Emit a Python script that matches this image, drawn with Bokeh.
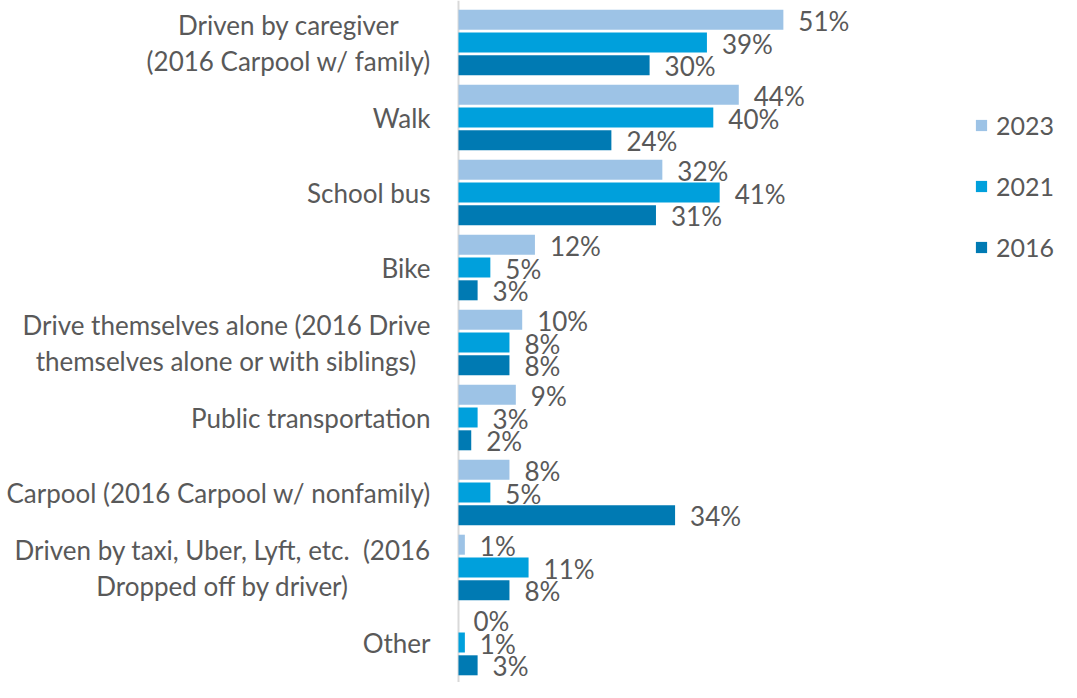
import subprocess
import glob
from bokeh.plotting import figure
from bokeh.models import ColumnDataSource, Range1d, Span, Legend, LegendItem
from bokeh.core.properties import value
from bokeh.embed import file_html
from bokeh.resources import INLINE

# ---------------- data ----------------
categories = [
    "Driven by caregiver\n(2016 Carpool w/ family)",
    "Walk",
    "School bus",
    "Bike",
    "Drive themselves alone (2016 Drive\nthemselves alone or with siblings)",
    "Public transportation",
    "Carpool (2016 Carpool w/ nonfamily)",
    "Driven by taxi, Uber, Lyft, etc.\u00a0 (2016\nDropped off by driver)",
    "Other",
]
years = ["2023", "2021", "2016"]
v2023 = [51, 44, 32, 12, 10, 9, 8, 1, 0]
v2021 = [39, 40, 41, 5, 8, 3, 5, 11, 1]
v2016 = [30, 24, 31, 3, 8, 2, 34, 8, 3]
series = [v2023, v2021, v2016]

# ---------------- style / layout ----------------
colors = ["#9dc3e6", "#00a0dc", "#007ab3"]
FONT = "Lato"
LABEL_SIZE = 26
VALUE_SIZE = 26
LEGEND_SIZE = 25
TEXT_COLOR = "#595959"
AXIS_COLOR = "#d9d9d9"

W, H = 1061, 682
AXIS_PX = 458          # screen x of the value axis inside the figure
PX_PER_PCT = 6.37
CAT_PITCH = 75.0       # px between category groups
FIRST_CAT_PX = 42      # screen y of the first group's centre
BAR_STEP_PX = 22.8
BAR_H_PX = 20
LABEL_GAP = 28
LINE_SPACING = 36
VALUE_GAP = 15

BAR_STEP = BAR_STEP_PX / CAT_PITCH
BAR_H = BAR_H_PX / CAT_PITCH


def font_path(name):
    try:
        out = subprocess.run(["fc-match", "-f", "%{file}", name],
                             capture_output=True, text=True, timeout=5).stdout.strip()
        if out:
            return out
    except Exception:
        pass
    hits = glob.glob("/usr/share/fonts/**/%s-Regular.ttf" % name, recursive=True)
    return hits[0] if hits else None


try:
    from PIL import ImageFont
    _font = ImageFont.truetype(font_path(FONT), LABEL_SIZE)

    def text_w(s):
        return _font.getlength(s)
except Exception:
    def text_w(s):
        return 0.5 * LABEL_SIZE * len(s)


x_range = Range1d(-AXIS_PX / PX_PER_PCT, (W - AXIS_PX) / PX_PER_PCT)
y_range = Range1d((H - FIRST_CAT_PX) / CAT_PITCH, -FIRST_CAT_PX / CAT_PITCH)

p = figure(width=W, height=H, x_range=x_range, y_range=y_range,
           output_backend="svg", toolbar_location=None,
           x_axis_location=None, y_axis_location=None,
           min_border=0, outline_line_color=None)
p.grid.visible = False
p.background_fill_color = "white"
p.border_fill_color = "white"

p.add_layout(Span(location=0, dimension="height", line_color=AXIS_COLOR,
                  line_width=2, level="underlay"))

renderers = []
for k, (yr, vals) in enumerate(zip(years, series)):
    ys = [i + (k - 1) * BAR_STEP for i in range(len(categories))]
    src = ColumnDataSource(dict(y=ys, v=vals, lab=["%d%%" % v for v in vals]))
    r = p.hbar(y="y", left=0, right="v", height=BAR_H, source=src,
               fill_color=colors[k], line_color=None)
    renderers.append(r)
    p.text(x="v", y="y", text="lab", source=src, x_offset=VALUE_GAP, y_offset=1,
           text_align="left", text_baseline="middle",
           text_font=value(FONT), text_font_size="%dpx" % VALUE_SIZE,
           text_color=TEXT_COLOR)

# category labels (lines centred on each other, block right-aligned to the axis)
lx, ly, lt, lxo, lyo = [], [], [], [], []
for i, cat in enumerate(categories):
    lines = cat.split("\n")
    maxw = max(text_w(l) for l in lines)
    off = -(LABEL_GAP + maxw / 2.0)
    n = len(lines)
    for j, line in enumerate(lines):
        lx.append(0)
        ly.append(i)
        lt.append(line)
        lxo.append(off)
        lyo.append((j - (n - 1) / 2.0) * LINE_SPACING)
lsrc = ColumnDataSource(dict(x=lx, y=ly, t=lt, xo=lxo, yo=lyo))
p.text(x="x", y="y", text="t", x_offset="xo", y_offset="yo", source=lsrc,
       text_align="center", text_baseline="middle",
       text_font=value(FONT), text_font_size="%dpx" % LABEL_SIZE,
       text_color=TEXT_COLOR)

LEG_ITEM_H = 34
LEG_SPACING = 27
LEG_FIRST_CENTER = 125
leg_top = LEG_FIRST_CENTER - LEG_ITEM_H / 2
leg_h = 3 * LEG_ITEM_H + 2 * LEG_SPACING
legend = Legend(
    items=[LegendItem(label=yr, renderers=[r]) for yr, r in zip(years, renderers)],
    location=(974, H - leg_top - leg_h),
    glyph_width=14, glyph_height=14, label_standoff=8,
    label_height=LEG_ITEM_H, spacing=LEG_SPACING, padding=0, margin=0,
    border_line_alpha=0, background_fill_alpha=0,
    label_text_font=FONT, label_text_font_size="%dpx" % LEGEND_SIZE,
    label_text_color=TEXT_COLOR,
)
p.add_layout(legend)

open("out.html", "w").write(file_html(p, INLINE))
